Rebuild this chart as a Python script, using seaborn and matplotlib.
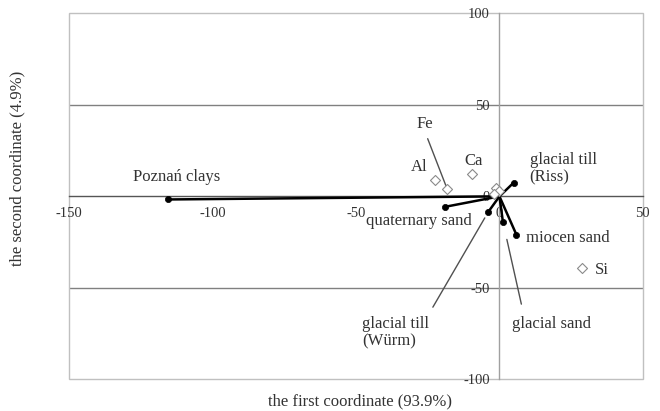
import pandas as pd
import matplotlib
matplotlib.use("Agg")
import matplotlib.pyplot as plt
import seaborn as sns
from matplotlib.patches import Rectangle

# scores des échantillons (points noirs)
samples = ["Poznań clays", "quaternary sand", "glacial till\n(Würm)",
           "glacial sand", "miocen sand", "glacial till\n(Riss)"]
sample_x = [-115.6, -18.9, -3.9, 1.2, 5.9, 4.9]
sample_y = [-1.7, -5.7, -8.5, -13.9, -20.9, 7.4]

# éléments (losanges vides), les trois derniers sans étiquette
elements = ["Al", "Fe", "Ca", "Si", None, None, None]
element_x = [-22.6, -18.2, -9.4, 28.8, -1.2, -0.1, -1.8]
element_y = [8.8, 3.9, 12.1, -38.9, 4.6, 2.7, 1.5]

x_ticks = [-150, -100, -50, 0, 50]
y_ticks = [-100, -50, 0, 50, 100]
grid_y = [-50, 50]

x_label = "the first coordinate (93.9%)"
y_label = "the second coordinate (4.9%)"

sns.set_style("white")
plt.rcParams["font.family"] = ["Liberation Serif", "DejaVu Serif"]
plt.rcParams["axes.unicode_minus"] = False

text_col = "#333333"

fig = plt.figure(figsize=(6.6, 4.11), dpi=100)
ax = fig.add_axes([0.105, 0.077, 0.869, 0.8905])

# lignes origine -> échantillon
lines_df = pd.DataFrame({
    "sample": [s for s in samples for _ in range(2)],
    "x": [v for x in sample_x for v in (0, x)],
    "y": [v for y in sample_y for v in (0, y)],
})
sns.lineplot(data=lines_df, x="x", y="y", units="sample", estimator=None,
             sort=False, color="black", lw=1.8, ax=ax, zorder=3)

sns.scatterplot(x=element_x, y=element_y, marker="D", s=26, color="white",
                edgecolor="#8a8a8a", linewidth=0.8, ax=ax, zorder=4)
sns.scatterplot(x=sample_x, y=sample_y, color="black", s=20,
                edgecolor="black", linewidth=0.5, ax=ax, zorder=5)

for gy in grid_y:
    ax.axhline(gy, color="#808080", lw=1.0, zorder=0)

ax.set_xlim(-150, 50)
ax.set_ylim(-100, 100)
ax.set_xticks(x_ticks)
ax.set_yticks(y_ticks)
ax.set_xlabel("")
ax.set_ylabel("")

ax.spines["left"].set_position(("data", 0))
ax.spines["bottom"].set_position(("data", 0))
ax.spines["left"].set_color("#a0a0a0")
ax.spines["bottom"].set_color("#555555")
ax.spines["left"].set_linewidth(1.0)
ax.spines["bottom"].set_linewidth(1.0)
ax.spines["top"].set_visible(False)
ax.spines["right"].set_visible(False)
ax.add_patch(Rectangle((0, 0), 1, 1, transform=ax.transAxes, fill=False,
                       ec="#c0c0c0", lw=1.0, zorder=0, clip_on=False))

ax.tick_params(axis="x", length=0, pad=8, labelsize=10.5, labelcolor=text_col)
ax.tick_params(axis="y", length=0, pad=7, labelsize=10.5, labelcolor=text_col)

# étiquettes
label_style = dict(fontsize=12, color=text_col)
place = {
    "Poznań clays": (-112.7, 10.7, "center"),
    "quaternary sand": (-9.8, -13.7, "right"),
    "miocen sand": (9.3, -23.0, "left"),
    "glacial till\n(Riss)": (10.5, 14.9, "left"),
    "Al": (-27.9, 16.1, "center"),
    "Ca": (-9.1, 19.2, "center"),
    "Si": (33.1, -40.0, "left"),
}
for name, (tx, ty, ha) in place.items():
    ax.text(tx, ty, name, ha=ha, va="center", linespacing=1.1, **label_style)

# étiquettes avec trait de rappel
leader = {
    "Fe": ((-26.0, 39.8), "center", (0.5, 0.0), 3, 3),
    "glacial till\n(Würm)": ((-48.0, -74.7), "left", (0.98, 1.0), 5, 5),
    "glacial sand": ((4.4, -69.5), "left", (0.15, 1.0), 6, 13),
}
points = dict(zip(samples, zip(sample_x, sample_y)))
points.update({e: (x, y) for e, x, y in zip(elements, element_x, element_y) if e})
for name, (xyt, ha, rel, sa, sb) in leader.items():
    ax.annotate(name, xy=points[name], xytext=xyt, ha=ha, va="center",
                linespacing=1.1,
                arrowprops=dict(arrowstyle="-", color="#505050", lw=1.0,
                                relpos=rel, shrinkA=sa, shrinkB=sb),
                **label_style)

fig.text(0.545, 0.024, x_label, ha="center", va="center", fontsize=12,
         color=text_col)
fig.text(0.027, 0.591, y_label, ha="center", va="center", rotation=90,
         fontsize=12, color=text_col)

fig.savefig("out.png", dpi=100)
